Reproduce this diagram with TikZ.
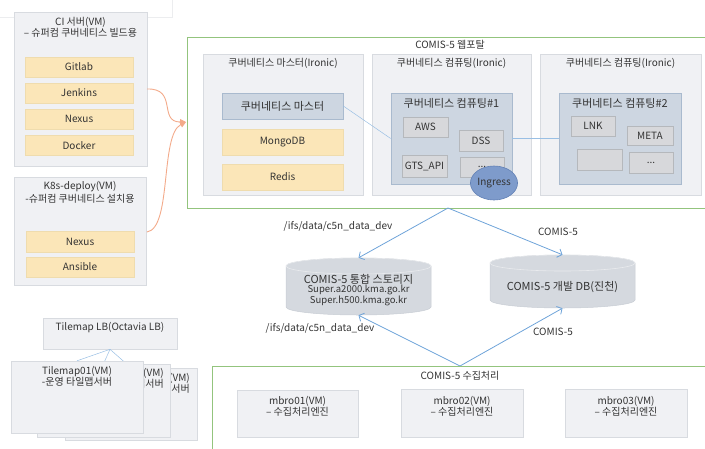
\documentclass[tikz,border=0pt]{standalone}
\usepackage{fontspec}
\setmainfont{Noto Sans CJK KR}
\usetikzlibrary{arrows.meta,shapes.geometric}
\definecolor{boxfill}{HTML}{F0F1F4}
\definecolor{boxdraw}{HTML}{D8DBE0}
\definecolor{yelfill}{HTML}{FBE6B8}
\definecolor{yeldraw}{HTML}{EFDCAE}
\definecolor{bluefill}{HTML}{CDD6E1}
\definecolor{bluedraw}{HTML}{A9BACE}
\definecolor{chipfill}{HTML}{D7D8DB}
\definecolor{chipdraw}{HTML}{B5B8BC}
\definecolor{ingfill}{HTML}{7E9BCB}
\definecolor{ingdraw}{HTML}{6281B5}
\definecolor{grn}{HTML}{93C47D}
\definecolor{arr}{HTML}{6EA3D9}
\definecolor{orn}{HTML}{F3AA8A}
\definecolor{cylfill}{HTML}{D5D9DF}
\definecolor{cyldraw}{HTML}{C8CDD4}
\definecolor{txt}{HTML}{333333}
\definecolor{faint}{HTML}{ECEDEF}
\tikzset{
  base/.style={inner sep=0pt, text=txt, font=\fontsize{10}{11}\selectfont},
  vmbox/.style={base, rectangle, fill=boxfill, draw=boxdraw, line width=0.6pt},
  yel/.style={base, rectangle, fill=yelfill, draw=yeldraw, line width=0.6pt},
  bluebox/.style={base, rectangle, fill=bluefill, draw=bluedraw, line width=0.6pt},
  chip/.style={base, rectangle, fill=chipfill, draw=chipdraw, line width=0.6pt},
  grnframe/.style={rectangle, draw=grn, line width=0.9pt, inner sep=0pt},
  lbl/.style={base, align=center},
  big/.style={font=\fontsize{11}{12}\selectfont},
  blink/.style={draw=arr!70, line width=0.5pt},
  barrow/.style={draw=arr, line width=0.8pt, -{Straight Barb[length=4pt,width=9pt]}},
  oarrow/.style={draw=orn, line width=0.9pt, -{Triangle[length=6pt,width=6pt]}},
  ghost/.style={rectangle, inner sep=0pt},
}
\begin{document}
\begin{tikzpicture}[x=1pt,y=-1pt]
\useasboundingbox (0,0) rectangle (705,448);
% faint box top-left
\draw[faint, line width=0.6pt] (-2,17) -- (172,17) -- (172,-2);

% ---------- CI server ----------
\node[vmbox, minimum width=133pt, minimum height=154pt] (ci) at (80.5,89) {};
\node[lbl] (cit) at (80.5,27.5) {CI 서버(VM)\\– 슈퍼컴 쿠버네티스 빌드용};
\node[yel, minimum width=108pt, minimum height=20pt] (gitlab) at (79,67) {Gitlab};
\node[yel, minimum width=108pt, minimum height=20pt] (jenkins) at (79,93) {Jenkins};
\node[yel, minimum width=108pt, minimum height=20pt] (nexus1) at (79,119) {Nexus};
\node[yel, minimum width=108pt, minimum height=20pt] (docker) at (79,145.5) {Docker};

% ---------- K8s deploy ----------
\node[vmbox, minimum width=132pt, minimum height=108pt] (k8s) at (80,231) {};
\node[lbl, font=\fontsize{10}{13}\selectfont] (k8st) at (80,192.5) {K8s-deploy(VM)\\-슈퍼컴 쿠버네티스 설치용};
\node[yel, minimum width=108pt, minimum height=21pt] (nexus2) at (80,241.5) {Nexus};
\node[yel, minimum width=108pt, minimum height=20pt] (ansible) at (80,267) {Ansible};

% ---------- Portal ----------
\node[grnframe, minimum width=528pt, minimum height=171pt, anchor=north west] (portal) at (187,37) {};
\node[lbl] (portalt) at (450,45) {COMIS-5 웹포탈};

\node[vmbox, minimum width=160pt, minimum height=141pt] (mcol) at (283,124.5) {};
\node[lbl] (mcolt) at (283,63) {쿠버네티스 마스터(Ironic)};
\node[vmbox, minimum width=159pt, minimum height=141pt] (c1col) at (451.5,124.5) {};
\node[lbl] (c1colt) at (451.5,63) {쿠버네티스 컴퓨팅(Ironic)};
\node[vmbox, minimum width=161pt, minimum height=141pt] (c2col) at (620.5,124.5) {};
\node[lbl] (c2colt) at (620.5,63) {쿠버네티스 컴퓨팅(Ironic)};

\node[bluebox, big, minimum width=121pt, minimum height=26pt] (kmaster) at (282.5,106) {쿠버네티스 마스터};
\node[yel, minimum width=121pt, minimum height=26pt] (mongo) at (282.5,142) {MongoDB};
\node[yel, minimum width=121pt, minimum height=26pt] (redis) at (282.5,177) {Redis};

\node[bluebox, minimum width=121pt, minimum height=91pt] (kc1) at (451.5,138.5) {};
\node[lbl, big] (kc1t) at (451.5,103) {쿠버네티스 컴퓨팅\#1};
\node[chip, minimum width=45pt, minimum height=20pt] (aws) at (425.5,127) {AWS};
\node[chip, minimum width=44pt, minimum height=21pt] (dss) at (481,140.5) {DSS};
\node[chip, minimum width=45pt, minimum height=22pt] (gts) at (424.5,166) {GTS\_API};
\node[chip, minimum width=44pt, minimum height=20pt] (dots1) at (482,167) {...};
\node[base, ellipse, fill=ingfill, draw=ingdraw, line width=0.6pt, minimum width=46pt, minimum height=34pt] (ingress) at (494,183) {Ingress};

\node[bluebox, minimum width=122pt, minimum height=91pt] (kc2) at (620,138.5) {};
\node[lbl, big] (kc2t) at (620,103) {쿠버네티스 컴퓨팅\#2};
\node[chip, minimum width=44pt, minimum height=20pt] (lnk) at (593,126) {LNK};
\node[chip, minimum width=46pt, minimum height=19pt] (meta) at (650,135.5) {META};
\node[chip, minimum width=45pt, minimum height=21pt] (empty) at (599.5,159.5) {};
\node[chip, minimum width=44pt, minimum height=21pt] (dots2) at (651,162.5) {...};

\draw[blink] (kmaster.east) -- (kc1.west);
\draw[blink] (kc1.east) -- (kc2.west);

% ---------- orange arrows ----------
\coordinate (otip) at (186,122);
\draw[oarrow] (147,89) .. controls (178,88) and (158,122) .. (otip);
\draw[oarrow] (147,232) .. controls (172,228) and (160,135) .. (otip);

% ---------- storages ----------
\node[ghost, minimum width=145pt, minimum height=57pt] (stor) at (358.5,286.5) {};
\path[fill=cylfill, draw=cyldraw, line width=0.5pt] (286,266) -- (286,307)
  arc[start angle=180, end angle=360, x radius=72.5pt, y radius=8pt] -- (431,266)
  arc[start angle=0, end angle=180, x radius=72.5pt, y radius=8pt] -- cycle;
\draw[draw=white!60!cyldraw, line width=0.6pt] (358.5,266) ellipse[x radius=72.5pt, y radius=8pt];
\node[lbl, font=\fontsize{11}{12}\selectfont] (stort) at (358.5,279) {COMIS-5 통합 스토리지};
\node[lbl, font=\fontsize{9.5}{10.5}\selectfont] (stors) at (358.5,295.5) {Super.a2000.kma.go.kr\\Super.h500.kma.go.kr};

\node[ghost, minimum width=145pt, minimum height=53pt] (devdb) at (562.5,281.5) {};
\path[fill=cylfill, draw=cyldraw, line width=0.5pt] (490,263) -- (490,300)
  arc[start angle=180, end angle=360, x radius=72.5pt, y radius=8pt] -- (635,263)
  arc[start angle=0, end angle=180, x radius=72.5pt, y radius=8pt] -- cycle;
\draw[draw=white!60!cyldraw, line width=0.6pt] (562.5,263) ellipse[x radius=72.5pt, y radius=8pt];
\node[lbl, font=\fontsize{11}{12}\selectfont] (devdbt) at (562.5,287) {COMIS-5 개발 DB(진천)};

% ---------- blue arrows ----------
\coordinate (tapex) at (448,208);
\draw[barrow] (tapex) -- (stor.north);
\draw[barrow] (tapex) -- (devdb.north);
\node[lbl] (l1) at (338,226) {/ifs/data/c5n\_data\_dev};
\node[lbl] (l2) at (558,232) {COMIS-5};

\coordinate (bapex) at (460,366);
\draw[barrow] (bapex) -- (stor.south);
\draw[barrow] (bapex) -- (devdb.south);
\node[lbl] (l3) at (320,328) {/ifs/data/c5n\_data\_dev};
\node[lbl] (l4) at (553,332) {COMIS-5};

% ---------- collection ----------
\node[grnframe, minimum width=503pt, minimum height=94pt, anchor=north west] (coll) at (212,366) {};
\node[lbl] (collt) at (460,376) {COMIS-5 수집처리};
\node[vmbox, minimum width=121pt, minimum height=47pt] (mbro1) at (297.5,413.5) {};
\node[lbl] (mbro1t) at (297.5,406.5) {mbro01(VM)\\– 수집처리엔진};
\node[vmbox, minimum width=122pt, minimum height=48pt] (mbro2) at (462,413) {};
\node[lbl] (mbro2t) at (462,406) {mbro02(VM)\\– 수집처리엔진};
\node[vmbox, minimum width=122pt, minimum height=48pt] (mbro3) at (626,413) {};
\node[lbl] (mbro3t) at (626,406) {mbro03(VM)\\– 수집처리엔진};

% ---------- tilemap ----------
\node[vmbox, minimum width=134pt, minimum height=31pt] (lb) at (110,333.5) {};
\node[lbl] (lbt) at (110,328) {Tilemap LB(Octavia LB)};
\node[ghost, minimum width=132pt, minimum height=72pt] (tm3p) at (131,404) {};
\node[ghost, minimum width=133pt, minimum height=73pt] (tm2p) at (103.5,400.5) {};
\node[ghost, minimum width=132pt, minimum height=72pt] (tm1p) at (77,397) {};
\draw[blink] (lb.south) -- (tm3p.north);
\draw[blink] (lb.south) -- (tm2p.north);
\draw[blink] (lb.south) -- (tm1p.north);
\node[vmbox, minimum width=132pt, minimum height=72pt] (tm3) at (131,404) {};
\node[base, align=right, anchor=east] (tm3t) at (190,383.5) {Tilemap03(VM)\\-운영 타일맵서버};
\node[vmbox, minimum width=133pt, minimum height=73pt] (tm2) at (103.5,400.5) {};
\node[base, align=right, anchor=east] (tm2t) at (164,378.5) {Tilemap02(VM)\\-운영 타일맵서버};
\node[vmbox, minimum width=132pt, minimum height=72pt] (tm1) at (77,397) {};
\node[lbl] (tm1t) at (77,376.5) {Tilemap01(VM)\\-운영 타일맵서버};
\end{tikzpicture}
\end{document}
